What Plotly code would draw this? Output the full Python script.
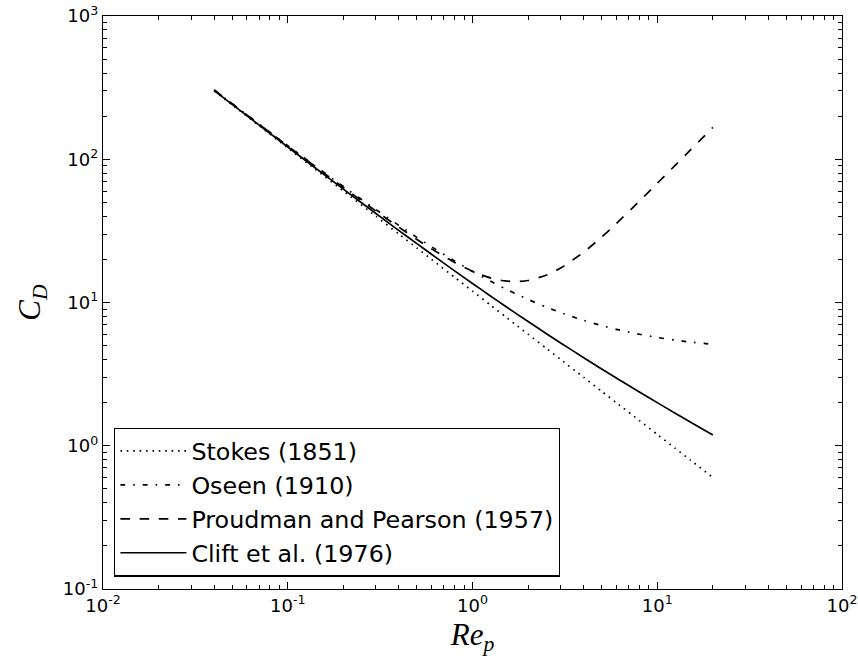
import plotly.graph_objects as go

# Particle Reynolds number samples
re_p = [0.04, 0.05, 0.07, 0.1, 0.14, 0.2, 0.3, 0.4, 0.5, 0.6, 0.8, 1.0, 1.25, 1.5,
        1.75, 2.0, 2.5, 3.0, 4.0, 5.0, 6.0, 8.0, 10.0, 12.5, 15.0, 20.0]

stokes = [300.0, 240.0, 171.4, 120.0, 85.71, 60.0, 40.0, 30.0, 24.0, 20.0, 15.0, 12.0, 9.6, 8.0,
          6.857, 6.0, 4.8, 4.0, 3.0, 2.4, 2.0, 1.5, 1.2, 0.96, 0.8, 0.6]

oseen = [304.5, 244.5, 175.9, 124.5, 90.21, 64.5, 44.5, 34.5, 28.5, 24.5, 19.5, 16.5, 14.1, 12.5,
         11.36, 10.5, 9.3, 8.5, 7.5, 6.9, 6.5, 6.0, 5.7, 5.46, 5.3, 5.1]

proudman = [304.2, 244.1, 175.4, 123.9, 89.47, 63.63, 43.52, 33.51, 27.56, 23.67, 19.02, 16.5, 14.85,
            14.14, 14.0, 14.24, 15.49, 17.4, 22.47, 28.63, 35.53, 50.92, 67.87, 90.7, 115.0, 166.9]

clift = [301.7, 241.7, 173.2, 121.8, 87.57, 61.85, 41.82, 31.78, 25.75, 21.71, 16.64, 13.58, 11.11,
         9.455, 8.262, 7.36, 6.083, 5.219, 4.117, 3.438, 2.974, 2.374, 2.0, 1.688, 1.472, 1.188]

series_names = ["Stokes (1851)", "Oseen (1910)", "Proudman and Pearson (1957)", "Clift et al. (1976)"]
series_values = [stokes, oseen, proudman, clift]
series_dash = ["1.6px,4.8px", "4.8px,8px,1.6px,8px", "9.6px,9.6px", "solid"]

x_tickvals = [0.01, 0.1, 1, 10, 100]
x_ticktext = ["10<sup>-2</sup>", "10<sup>-1</sup>", "10<sup>0</sup>", "10<sup>1</sup>", "10<sup>2</sup>"]
y_tickvals = [0.1, 1, 10, 100, 1000]
y_ticktext = ["10<sup>-1</sup>", "10<sup>0</sup>", "10<sup>1</sup>", "10<sup>2</sup>", "10<sup>3</sup>"]

fig = go.Figure()
for i, (name, vals, dash) in enumerate(zip(series_names, series_values, series_dash)):
    fig.add_trace(go.Scatter(
        x=re_p, y=vals, mode="lines", name=name,
        line=dict(color="black", width=1.7, dash=dash, shape="spline", smoothing=0.6),
        legendgroup=f"g{i}",
    ))

axis_common = dict(
    type="log", automargin=False,
    showline=True, linecolor="black", linewidth=1.3, mirror="allticks",
    ticks="inside", ticklen=7, tickwidth=1, tickcolor="black",
    showgrid=False, zeroline=False,
    tickfont=dict(family="DejaVu Sans", size=18, color="black"),
    minor=dict(ticks="inside", ticklen=3.5, tickwidth=1, tickcolor="black",
               dtick="D1", showgrid=False),
)

fig.update_xaxes(
    **axis_common,
    range=[-2, 2],
    tickvals=x_tickvals, ticktext=x_ticktext,
    title=dict(text="<i>Re</i><sub><i>p</i></sub>",
               font=dict(family="Liberation Serif", size=31, color="black"), standoff=8),
)
fig.update_yaxes(
    **axis_common,
    range=[-1, 3],
    tickvals=y_tickvals, ticktext=y_ticktext,
    title=dict(text="<i>C</i><sub><i>D</i></sub>",
               font=dict(family="Liberation Serif", size=31, color="black"), standoff=12),
)

fig.update_layout(
    width=858, height=662,
    margin=dict(l=103, r=16, t=16, b=73),
    plot_bgcolor="white", paper_bgcolor="white",
    legend=dict(
        x=0.015, y=0.0215, xanchor="left", yanchor="bottom",
        bgcolor="white", bordercolor="black", borderwidth=1.3,
        font=dict(family="DejaVu Sans", size=23.8, color="black"),
        tracegroupgap=0, itemwidth=66,
    ),
    showlegend=True,
)

fig.write_html("out.html")
